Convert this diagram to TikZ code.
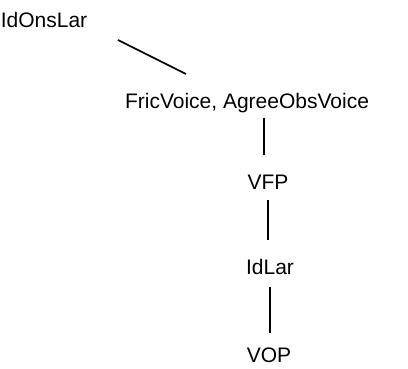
\documentclass[tikz,border=0pt]{standalone}
\usepackage{fontspec}
\setmainfont{Liberation Sans}
\begin{document}
\begin{tikzpicture}[x=1pt,y=-1pt,
  lbl/.style={inner sep=0pt, anchor=base, font=\fontsize{21}{25}\selectfont},
  edge/.style={line width=1.6pt, black}]
\useasboundingbox (0,0) rectangle (408,369);
\node[lbl] (idons) at (44,27.5) {IdOnsLar};
\node[lbl] (fric) at (247,108.5) {FricVoice, AgreeObsVoice};
\node[lbl] (vfp) at (268,189.5) {VFP};
\node[lbl] (idlar) at (270,274.5) {IdLar};
\node[lbl] (vop) at (269,362.5) {VOP};
\coordinate (e1a) at (118,40);
\coordinate (e1b) at (186,74);
\draw[edge] (e1a) -- (e1b);
\coordinate (e2a) at (264,118);
\coordinate (e2b) at (264,155);
\draw[edge] (e2a) -- (e2b);
\coordinate (e3a) at (268,200);
\coordinate (e3b) at (268,240);
\draw[edge] (e3a) -- (e3b);
\coordinate (e4a) at (270,287);
\coordinate (e4b) at (270,333);
\draw[edge] (e4a) -- (e4b);
\end{tikzpicture}
\end{document}
